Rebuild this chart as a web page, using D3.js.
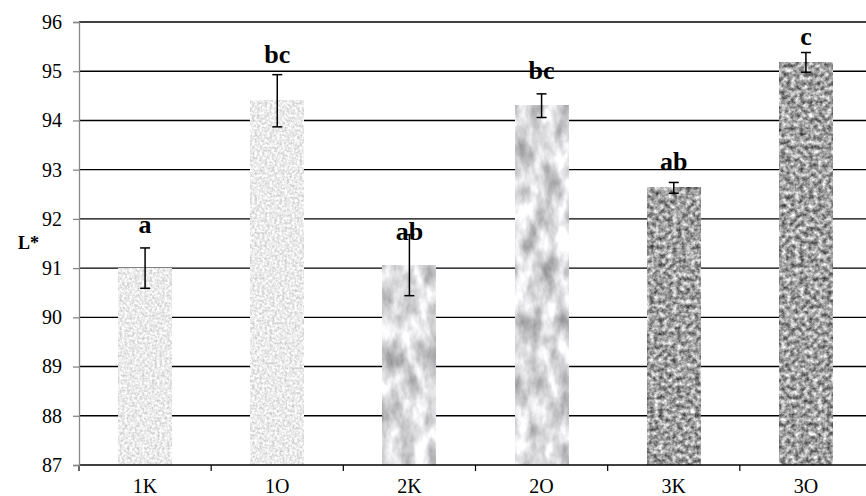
<!DOCTYPE html>
<html>
<head>
<meta charset="utf-8">
<script src="https://cdn.jsdelivr.net/npm/d3@7"></script>
<style>
  body { margin: 0; background: #fff; }
  svg text { font-family: "Liberation Serif", "Times New Roman", serif; fill: #000; }
</style>
</head>
<body>
<svg width="866" height="496"></svg>
<script>
var categories = ["1K", "1O", "2K", "2O", "3K", "3O"];
var means = [91.0, 94.4, 91.06, 94.3, 92.63, 95.18];
var errors = [0.41, 0.53, 0.62, 0.24, 0.11, 0.2];
var letters = ["a", "bc", "ab", "bc", "ab", "c"];
var letterY = [91.72, 95.16, 91.57, 94.85, 93.0, 95.54];
var yTicks = [87, 88, 89, 90, 91, 92, 93, 94, 95, 96];

var data = categories.map(function(c, i) {
  return {cat: c, mean: means[i], err: errors[i], letter: letters[i], ly: letterY[i]};
});

var serif = "Liberation Serif, Times New Roman, serif";

var svg = d3.select("svg"),
    margin = {top: 22, right: -6, bottom: 31, left: 79},
    width = +svg.attr("width"),
    height = +svg.attr("height");

var x = d3.scaleBand()
    .domain(categories)
    .range([margin.left, width - margin.right])
    .padding(0);

var y = d3.scaleLinear()
    .domain([87, 96])
    .range([height - margin.bottom, margin.top]);

// textures for the bars
var defs = svg.append("defs");

function noiseFilter(id, type, freq, oct, seed, matrix) {
  var f = defs.append("filter").attr("id", id)
      .attr("x", 0).attr("y", 0).attr("width", 1).attr("height", 1)
      .attr("color-interpolation-filters", "sRGB");
  f.append("feTurbulence").attr("type", type).attr("baseFrequency", freq)
      .attr("numOctaves", oct).attr("seed", seed).attr("result", "n");
  f.append("feColorMatrix").attr("type", "matrix").attr("values", matrix);
}
noiseFilter("fine", "fractalNoise", "0.4", 3, 3,
  "0.4 0 0 0 0.72  0.4 0 0 0 0.72  0.4 0 0 0 0.72  0 0 0 0 1");
noiseFilter("marble", "fractalNoise", "0.07 0.035", 4, 7,
  "0.7 0 0 0 0.5  0.7 0 0 0 0.5  0.7 0 0 0 0.51  0 0 0 0 1");
noiseFilter("granite", "fractalNoise", "0.22", 3, 11,
  "1.1 0 0 0 0.08  1.1 0 0 0 0.08  1.1 0 0 0 0.08  0 0 0 0 1");

function textureFor(c) {
  return {"1": "fine", "2": "marble", "3": "granite"}[c.charAt(0)];
}

// gridlines
svg.append("g")
  .selectAll("line")
  .data(yTicks.slice(1))
  .enter().append("line")
    .attr("x1", margin.left)
    .attr("x2", width)
    .attr("y1", function(d) { return y(d); })
    .attr("y2", function(d) { return y(d); })
    .attr("stroke", "#000")
    .attr("stroke-width", 1.4);

// bars
var bw = x.bandwidth() * 0.4;
svg.append("g")
  .selectAll("rect")
  .data(data)
  .enter().append("rect")
    .attr("x", function(d) { return x(d.cat) + (x.bandwidth() - bw) / 2; })
    .attr("y", function(d) { return y(d.mean); })
    .attr("width", bw)
    .attr("height", function(d) { return y(87) - y(d.mean); })
    .attr("fill", "#ddd")
    .attr("filter", function(d) { return "url(#" + textureFor(d.cat) + ")"; });

// x axis
var xAxis = svg.append("g")
    .attr("transform", "translate(0," + y(87) + ")");
xAxis.append("line")
    .attr("x1", margin.left).attr("x2", width)
    .attr("stroke", "#000").attr("stroke-width", 1.4);
xAxis.selectAll("line.tick")
  .data(categories)
  .enter().append("line")
    .attr("class", "tick")
    .attr("x1", function(d) { return x(d); })
    .attr("x2", function(d) { return x(d); })
    .attr("y1", 0).attr("y2", 6)
    .attr("stroke", "#000").attr("stroke-width", 1.2);
xAxis.selectAll("text")
  .data(categories)
  .enter().append("text")
    .attr("x", function(d) { return x(d) + x.bandwidth() / 2; })
    .attr("y", 28)
    .attr("text-anchor", "middle")
    .attr("font-family", serif)
    .style("font-size", "20px")
    .text(function(d) { return d; });

// y axis
var yAxis = svg.append("g")
    .attr("transform", "translate(" + margin.left + ",0)")
    .call(d3.axisLeft(y).tickValues(yTicks).tickSize(6).tickPadding(11)
      .tickFormat(d3.format("d")))
    .attr("font-family", serif)
    .attr("font-size", 20);
yAxis.select(".domain").attr("stroke", "#888").attr("stroke-width", 1.3);
yAxis.selectAll(".tick line").attr("stroke", "#888").attr("stroke-width", 1.3);
yAxis.selectAll(".tick text").attr("fill", "#000");

svg.append("text")
    .attr("x", 18)
    .attr("y", 249)
    .attr("font-family", serif)
    .style("font-size", "18px")
    .style("font-weight", "bold")
    .text("L*");

// error bars
var eb = svg.append("g").attr("stroke", "#000").attr("stroke-width", 1.5);
data.forEach(function(d) {
  var cx = x(d.cat) + x.bandwidth() / 2;
  eb.append("line").attr("x1", cx).attr("x2", cx)
    .attr("y1", y(d.mean + d.err)).attr("y2", y(d.mean - d.err));
  eb.append("line").attr("x1", cx - 5).attr("x2", cx + 5)
    .attr("y1", y(d.mean + d.err)).attr("y2", y(d.mean + d.err));
  eb.append("line").attr("x1", cx - 5).attr("x2", cx + 5)
    .attr("y1", y(d.mean - d.err)).attr("y2", y(d.mean - d.err));
});

// significance letters
svg.append("g")
  .selectAll("text")
  .data(data)
  .enter().append("text")
    .attr("x", function(d) { return x(d.cat) + x.bandwidth() / 2; })
    .attr("y", function(d) { return y(d.ly); })
    .attr("text-anchor", "middle")
    .attr("font-family", serif)
    .style("font-size", "26px")
    .style("font-weight", "bold")
    .text(function(d) { return d.letter; });
</script>
</body>
</html>
